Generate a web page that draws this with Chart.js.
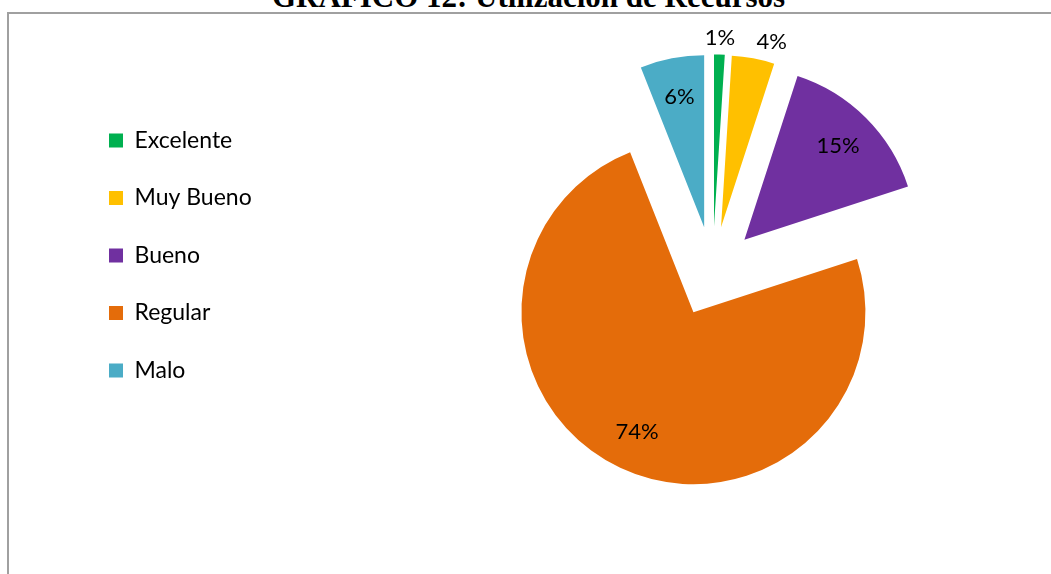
<!DOCTYPE html>
<html lang="es">
<head>
<meta charset="utf-8">
<title>GRAFICO 12</title>
<script src="https://cdn.jsdelivr.net/npm/chart.js"></script>
<style>
    html, body { margin: 0 ; padding: 0 ; background: #ffffff ; overflow: hidden ; }
    .titulo {
        position: absolute ; left: 0 ; top: -19px ; width: 1057px ;
        text-align: center ; white-space: nowrap ;
        font: bold 31px/31px "Liberation Serif", "Times New Roman", serif ;
        color: #000000 ;
    }
    .marco {
        position: absolute ; left: 7px ; top: 12px ; width: 1100px ; height: 600px ;
        border-top: 2px solid #a0a0a0 ; border-left: 2px solid #a0a0a0 ;
    }
    .grafico { position: absolute ; left: 0 ; top: 0 ; width: 1051px ; height: 574px ; overflow: hidden ; }
    .grafico canvas { position: absolute ; left: 0 ; top: 0 ; }
</style>
</head>
<body>
<div class="titulo">GRAFICO 12: Utilización de Recursos</div>
<div class="marco"></div>
<div class="grafico"><canvas id="myChart" width="1200" height="574"></canvas></div>

<script>
const categorias = ["Excelente", "Muy Bueno", "Bueno", "Regular", "Malo"] ;
const porcentajes = [1, 4, 15, 74, 6] ;
const colores = ["#00b050", "#ffc000", "#7030a0", "#e46c0a", "#4bacc6"] ;

// every slice pulled out from the centre (like Excel's exploded pie)
const separar = {
    id: 'separar',
    afterDatasetUpdate(chart, args, opts) {
        args.meta.data.forEach((arc) => {
            const mid = (arc.startAngle + arc.endAngle) / 2 ;
            arc.x += Math.cos(mid) * opts.distancia ;
            arc.y += Math.sin(mid) * opts.distancia ;
        });
    }
};

// percentage labels, inside the big slices and just outside the small ones
const etiquetas = {
    id: 'etiquetas',
    afterDatasetsDraw(chart, args, opts) {
        const ctx = chart.ctx ;
        const meta = chart.getDatasetMeta(0) ;
        const valores = chart.data.datasets[0].data ;
        const total = valores.reduce((a, b) => a + b, 0) ;
        ctx.save() ;
        ctx.font = opts.font ;
        ctx.fillStyle = opts.color ;
        ctx.textBaseline = 'middle' ;
        meta.data.forEach((arc, i) => {
            const pct = Math.round(valores[i] / total * 100) ;
            const mid = (arc.startAngle + arc.endAngle) / 2 ;
            const dentro = pct >= 5 ;
            const r = arc.outerRadius * (dentro ? opts.dentro : opts.fuera) ;
            const cx = Math.cos(mid) ;
            ctx.textAlign = 'center' ;
            if (!dentro && Math.abs(cx) > 0.1) {
                ctx.textAlign = cx > 0 ? 'left' : 'right' ;
            }
            ctx.fillText(pct + '%', arc.x + cx * r, arc.y + Math.sin(mid) * r) ;
        });
        ctx.restore() ;
    }
};

const ctx = document.getElementById('myChart') ;
const myChart = new Chart(ctx, {
    type: 'pie',
    data: {
        labels: categorias,
        datasets: [{
            data: porcentajes,
            backgroundColor: colores,
            borderWidth: 0,
            hoverBorderWidth: 0,
            hoverOffset: 0
        }]
    },
    options: {
        responsive: false,
        animation: false,
        radius: 172,
        layout: {
            padding: { left: 74.5, top: 94.5, right: 36.5, bottom: 125.5 }
        },
        plugins: {
            legend: {
                position: 'left',
                align: 'start',
                labels: {
                    boxWidth: 14,
                    boxHeight: 14,
                    padding: 34.5,
                    color: '#000000',
                    font: { family: 'Lato', size: 23 }
                }
            },
            separar: { distancia: 45 },
            etiquetas: { font: '22px Lato', color: '#000000', dentro: 0.77, fuera: 1.1 }
        }
    },
    plugins: [separar, etiquetas]
});
</script>
</body>
</html>
